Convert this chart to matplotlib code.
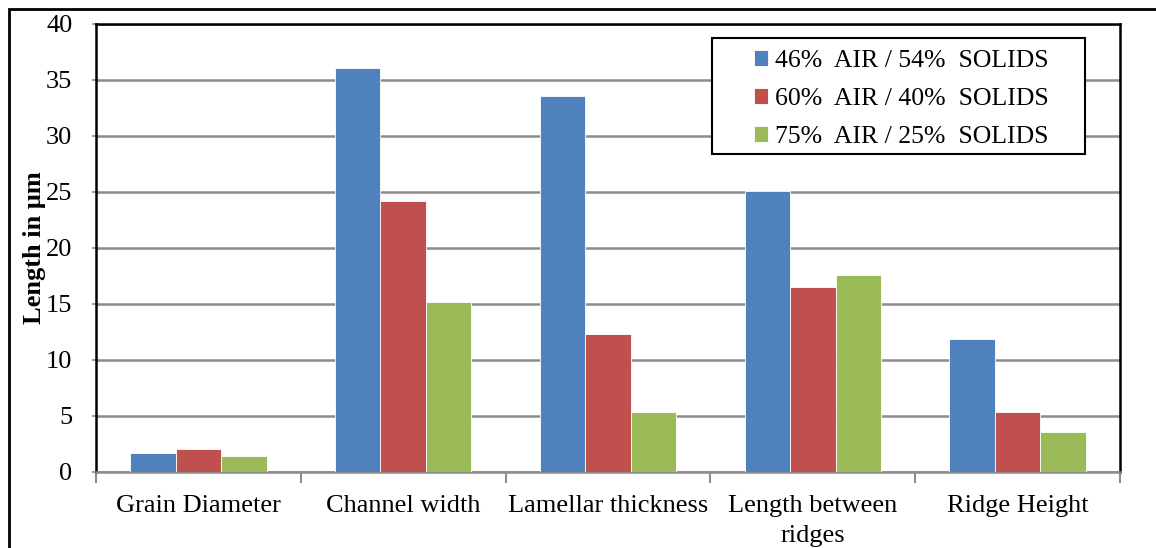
import numpy as np
import matplotlib
matplotlib.use("Agg")
import matplotlib.pyplot as plt
from matplotlib.patches import Rectangle

# measured lengths (um) for each foam composition
categories = ["Grain Diameter", "Channel width", "Lamellar thickness",
              "Length between\nridges", "Ridge Height"]
air46 = [1.7, 36.1, 33.6, 25.1, 11.85]
air60 = [2.05, 24.2, 12.3, 16.5, 5.35]
air75 = [1.45, 15.2, 5.35, 17.6, 3.55]
series_names = ["46%  AIR / 54%  SOLIDS", "60%  AIR / 40%  SOLIDS", "75%  AIR / 25%  SOLIDS"]
colors = ["#4F81BD", "#C0504D", "#9BBB59"]

plt.rcParams["font.family"] = ["Liberation Serif", "DejaVu Serif"]

W, H = 1156, 548
fig = plt.figure(figsize=(W/100, H/100), dpi=100)
ax = fig.add_axes([96/W, 1-472/H, (1120-96)/W, (472-24)/H])

x = np.arange(len(categories))
w = 2/9
for i, (vals, name, c) in enumerate(zip([air46, air60, air75], series_names, colors)):
    ax.bar(x + (i-1)*w, vals, width=w, color=c, edgecolor="white", linewidth=0.6,
           label=name, zorder=3)

ax.set_xlim(-0.5, len(categories)-0.5)
ax.set_ylim(0, 40)
ax.set_yticks(range(0, 41, 5))
ax.grid(axis="y", color="#8c8c8c", linewidth=1.8, zorder=0)

# category labels between boundary ticks
ax.set_xticks(x)
ax.set_xticklabels(categories, fontsize=19, linespacing=1.5)
ax.set_xticks(np.arange(-0.5, len(categories)), minor=True)
ax.tick_params(axis="x", which="major", length=0, pad=16.5)
ax.tick_params(axis="x", which="minor", length=8, width=1.5, color="#8c8c8c")
ax.tick_params(axis="y", length=3, width=1.2, color="#8c8c8c", labelsize=19, pad=14)

for s in ["left", "top", "right"]:
    ax.spines[s].set_color("black")
    ax.spines[s].set_linewidth(1.8)
ax.spines["bottom"].set_color("#8c8c8c")
ax.spines["bottom"].set_linewidth(1.8)

ax.set_ylabel("Length in μm", fontsize=19, fontweight="bold", labelpad=0)

# legend entries without their own frame; box drawn separately
leg = ax.legend(loc="upper left", bbox_to_anchor=(754/W, 1-50/H),
                bbox_transform=fig.transFigure, fontsize=18.5, frameon=False,
                handlelength=0.55, handleheight=0.55, handletextpad=0.25,
                labelspacing=0.62, borderpad=0, borderaxespad=0)
leg.set_zorder(6)
ax.add_patch(Rectangle((712/W, 1-154/H), (1085-712)/W, (154-38)/H,
                       transform=fig.transFigure, facecolor="white",
                       edgecolor="black", linewidth=1.5, zorder=5, clip_on=False))

# outer chart frame
fig.patches.append(Rectangle((9/W, -0.1), 1.2, 1-9/H+0.1, transform=fig.transFigure,
                             fill=False, edgecolor="black", linewidth=2))

fig.savefig("out.png", dpi=100)
